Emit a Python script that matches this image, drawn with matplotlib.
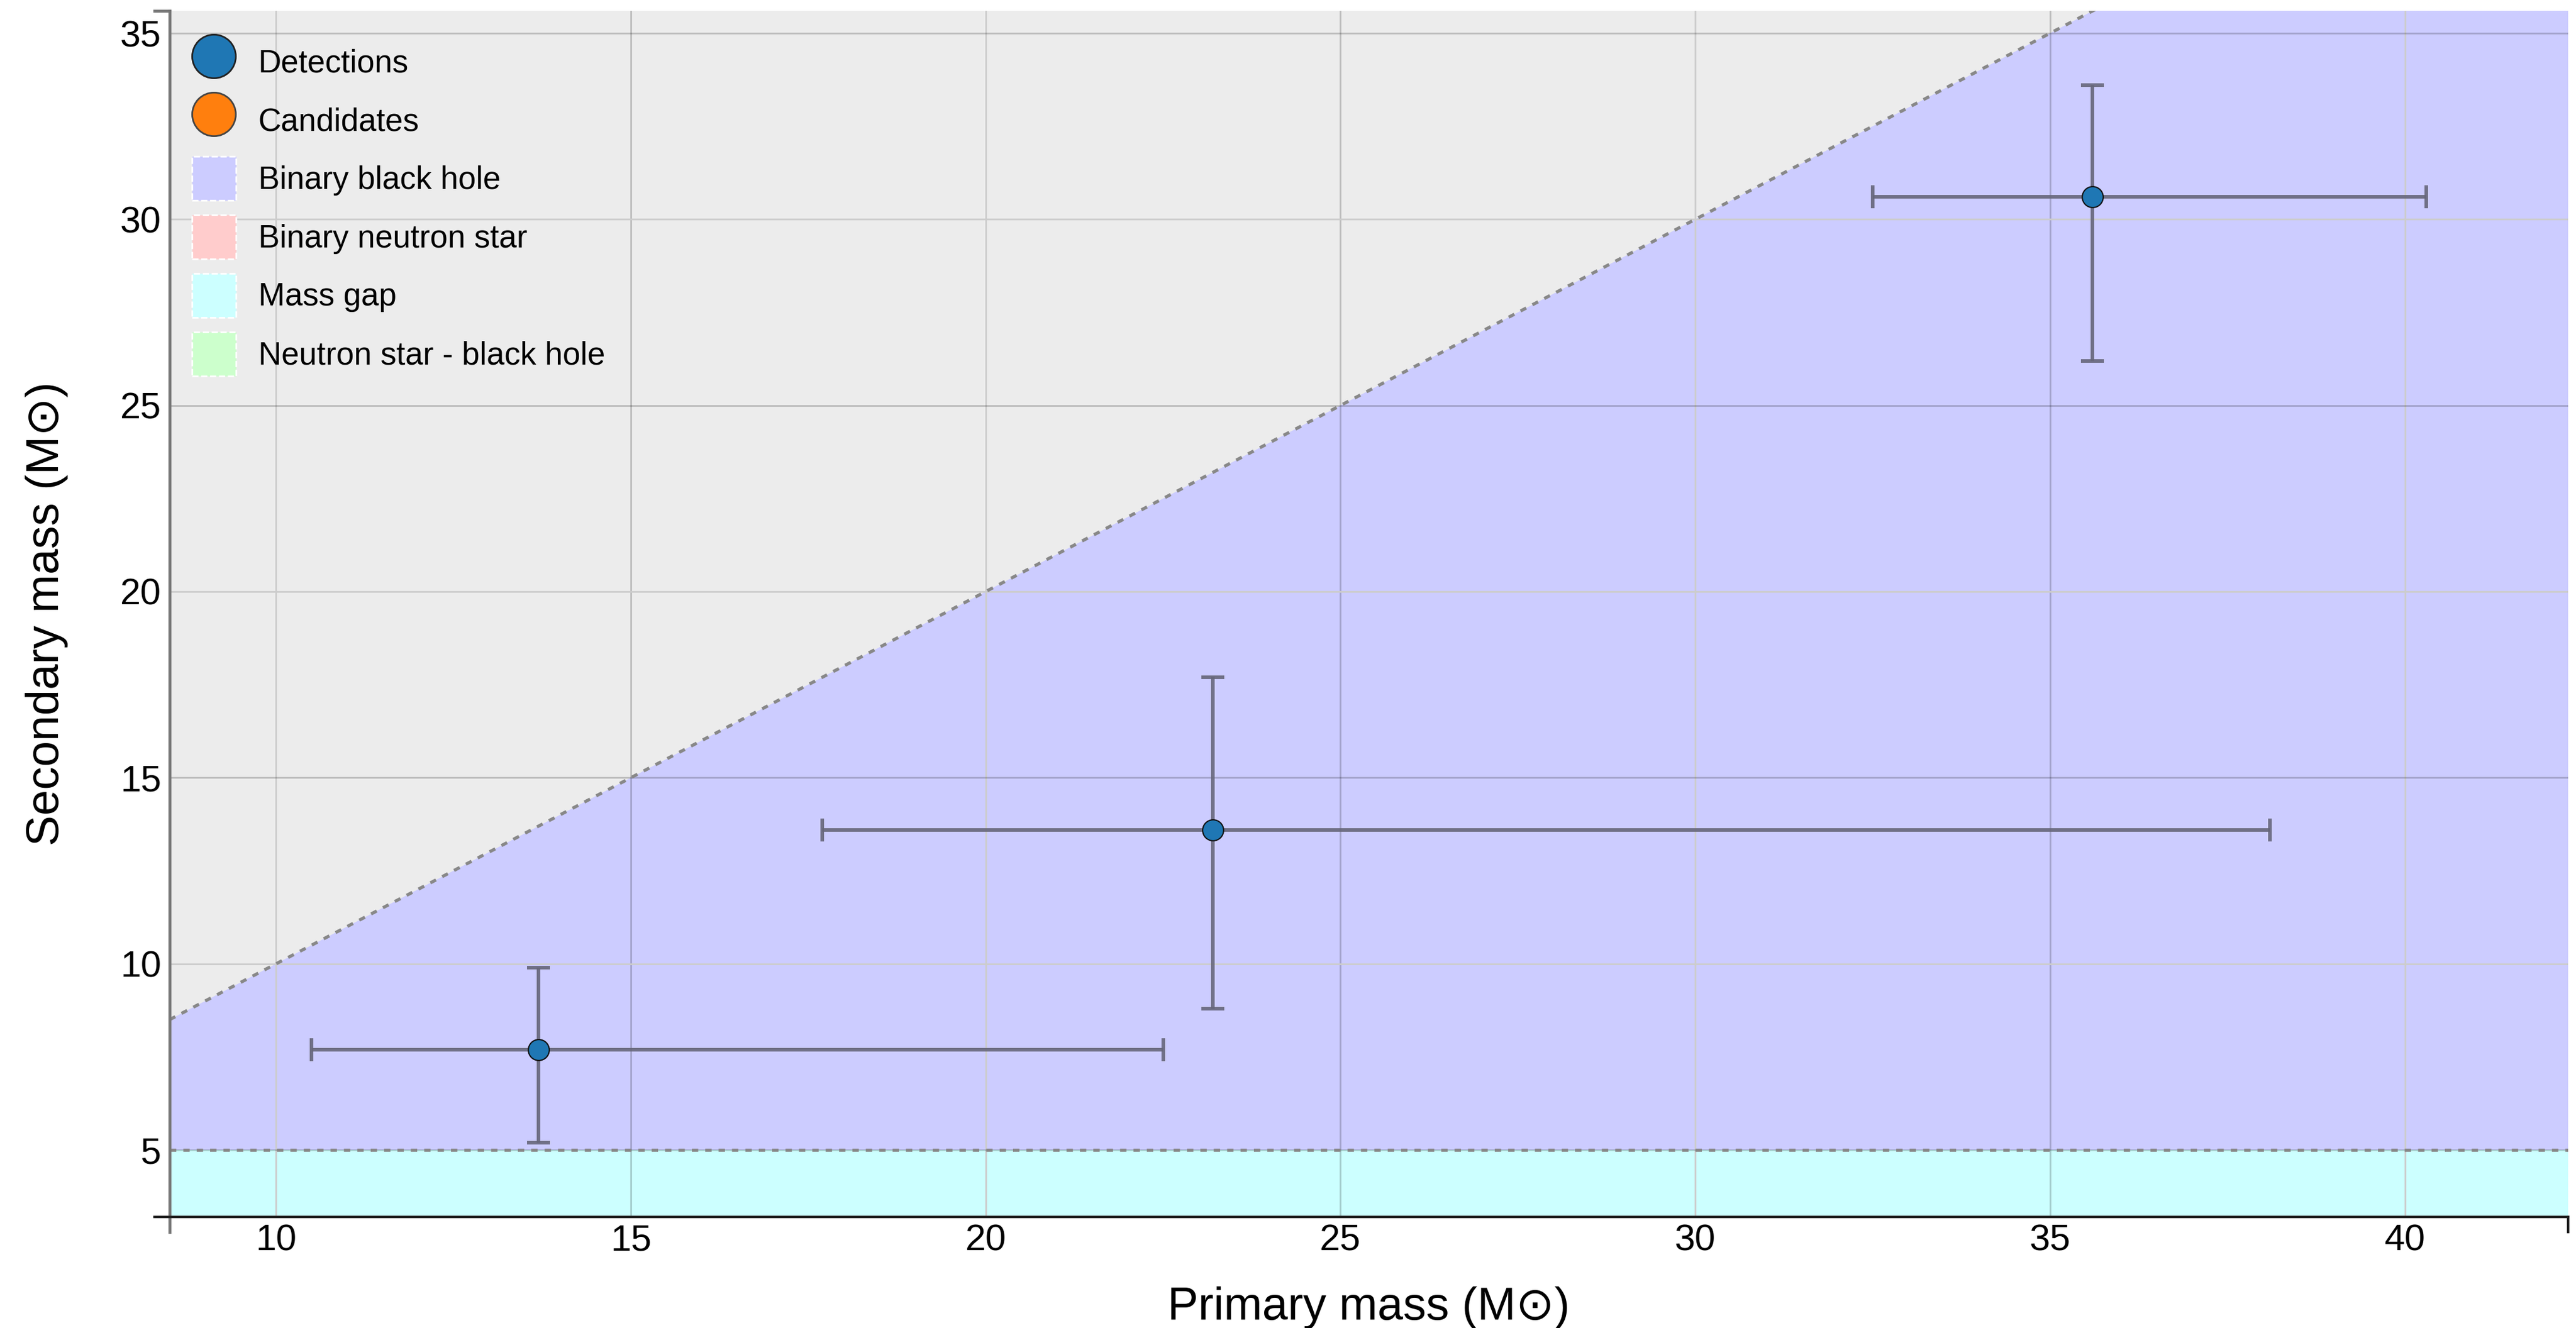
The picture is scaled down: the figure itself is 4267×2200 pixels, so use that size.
import matplotlib
matplotlib.use("Agg")
import matplotlib.pyplot as plt
import numpy as np
from matplotlib.lines import Line2D
from matplotlib.patches import Patch

# detected events (median and 90% interval), solar masses
events = ["GW150914", "GW151012", "GW151226"]
primary = [35.6, 23.2, 13.7]
primary_lo = [32.5, 17.7, 10.5]
primary_hi = [40.3, 38.1, 22.5]
secondary = [30.6, 13.6, 7.7]
secondary_lo = [26.2, 8.8, 5.2]
secondary_hi = [33.6, 17.7, 9.9]

# candidates (none shown)
cand_primary = []
cand_secondary = []

# region boundaries
mass_gap_max = 5.0
x_range = [8.5, 42.3]
y_range = [3.2, 35.6]
x_ticks = [10, 15, 20, 25, 30, 35, 40]
y_ticks = [5, 10, 15, 20, 25, 30, 35]

region_labels = ["Binary black hole", "Binary neutron star", "Mass gap", "Neutron star - black hole"]
region_colors = ["#ccccff", "#ffcccc", "#ccffff", "#ccffcc"]

plt.rcParams["font.family"] = ["Liberation Sans", "DejaVu Sans"]


def main():
    fig = plt.figure(figsize=(42.67, 22), dpi=100)
    ax = fig.add_axes([281 / 4267, 1 - 2016 / 2200, (4254 - 281) / 4267, (2016 - 18) / 2200])
    ax.set_facecolor("#ececec")
    ax.set_xlim(*x_range)
    ax.set_ylim(*y_range)

    # regions
    xs = np.array(x_range)
    ax.fill_between(xs, y_range[0], mass_gap_max, color=region_colors[2], lw=0, zorder=0.5)
    ax.fill_between(xs, mass_gap_max, xs, color=region_colors[0], lw=0, zorder=0.5)

    # grid: light at multiples of 10, darker at the odd fives
    for t in x_ticks:
        if t % 10 == 0:
            ax.axvline(t, color="#cccccc", lw=2, zorder=1)
        else:
            ax.axvline(t, color="black", alpha=0.2, lw=2, zorder=1)
    for t in y_ticks:
        if t % 10 == 0:
            ax.axhline(t, color="#cccccc", lw=2, zorder=1)
        else:
            ax.axhline(t, color="black", alpha=0.2, lw=2, zorder=1)

    # boundaries
    ax.plot(xs, xs, color="#888888", lw=3.8, ls=(0, (2, 2.2)), dash_capstyle="butt", zorder=1.5)
    ax.axhline(mass_gap_max, color="#888888", lw=3.8, ls=(0, (2, 2.2)), dash_capstyle="butt", zorder=1.5)

    xerr = [np.array(primary) - np.array(primary_lo), np.array(primary_hi) - np.array(primary)]
    yerr = [np.array(secondary) - np.array(secondary_lo), np.array(secondary_hi) - np.array(secondary)]
    ax.errorbar(primary, secondary, xerr=xerr, yerr=yerr, fmt="none", ecolor="#66667a",
                alpha=0.9, elinewidth=4.3, capsize=14, capthick=4.3, zorder=3)
    ax.scatter(primary, secondary, s=25 ** 2, color="#1f77b4", edgecolor="#111111",
               linewidth=1.5, zorder=4)
    ax.scatter(cand_primary, cand_secondary, s=25 ** 2, color="#ff7f0e", edgecolor="#111111",
               linewidth=1.5, zorder=4)

    ax.set_xticks(x_ticks)
    ax.set_yticks(y_ticks)
    ax.tick_params(axis="both", length=0, labelsize=44)
    ax.tick_params(axis="y", pad=10)
    ax.tick_params(axis="x", pad=8)

    for s in ["top", "right"]:
        ax.spines[s].set_visible(False)
    ax.spines["left"].set_color("#777777")
    ax.spines["left"].set_linewidth(3.5)
    ax.spines["bottom"].set_color("#222222")
    ax.spines["bottom"].set_linewidth(3)
    ax.spines["left"].set_zorder(5)
    ax.spines["bottom"].set_zorder(5)

    # outer ticks at the domain ends
    dx = 25 / 3973
    dy = 25 / 1998
    ax.plot([-dx, 0], [1, 1], transform=ax.transAxes, color="#777777", lw=3.5, clip_on=False)
    ax.plot([0, 0], [0, -dy], transform=ax.transAxes, color="#777777", lw=3.5, clip_on=False)
    ax.plot([-dx, 0], [0, 0], transform=ax.transAxes, color="#222222", lw=3, clip_on=False)
    ax.plot([1, 1], [0, -dy], transform=ax.transAxes, color="#222222", lw=3, clip_on=False)

    ax.set_xlabel("Primary mass (M\u2299)", fontsize=55, labelpad=34)
    ax.set_ylabel("Secondary mass (M\u2299)", fontsize=55, labelpad=62)

    handles = [
        Line2D([], [], marker="o", ls="none", markersize=52, markerfacecolor="#1f77b4",
               markeredgecolor="#222222", markeredgewidth=2),
        Line2D([], [], marker="o", ls="none", markersize=52, markerfacecolor="#ff7f0e",
               markeredgecolor="#444444", markeredgewidth=2),
    ]
    for c in region_colors:
        handles.append(Patch(facecolor=c, edgecolor="white", linestyle="--", linewidth=2))
    labels = ["Detections", "Candidates"] + region_labels
    ax.legend(handles, labels, loc="upper left", bbox_to_anchor=(37 / 3973, 1 - 48 / 1998),
              frameon=False, fontsize=38, borderpad=0, borderaxespad=0,
              handlelength=1.38, handleheight=1.75, labelspacing=0.45, handletextpad=0.70)

    fig.savefig("out.png", dpi=100)


if __name__ == "__main__":
    main()
